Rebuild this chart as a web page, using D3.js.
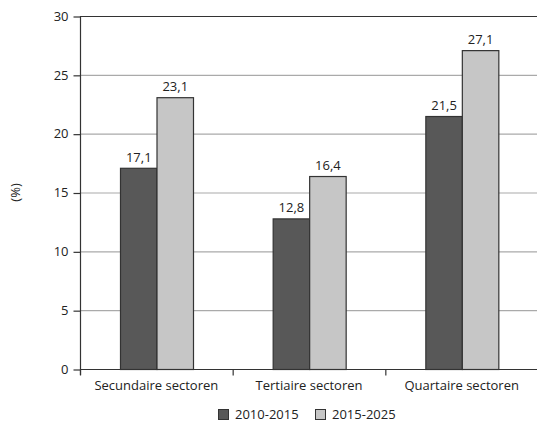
<!DOCTYPE html>
<html><head><meta charset="utf-8">
<script src="https://cdn.jsdelivr.net/npm/d3@7"></script>
<style>body{margin:0;background:#fff}svg{display:block}text{font-family:"Open Sans",sans-serif;fill:#222}</style>
</head><body><svg id="c" width="537" height="422"></svg>
<script>
const categories = ["Secundaire sectoren","Tertiaire sectoren","Quartaire sectoren"];
const seriesNames = ["2010-2015","2015-2025"];
const values2010 = [17.1,12.8,21.5];
const values2015 = [23.1,16.4,27.1];
const yTicks = [0,5,10,15,20,25,30];
const colors = ["#585858","#c6c6c6"];

const svg = d3.select("#c");
const m = {l:80, r:0, t:16, b:53};
const W = 537, H = 422;
const x = d3.scaleBand().domain(categories).range([m.l, W+1]);
const y = d3.scaleLinear().domain([0,30]).range([H-m.b, m.t]);
const fmt = v => v.toFixed(1).replace(".", ",");

// gridlines
svg.append("g").selectAll("line").data(yTicks.filter(t=>t>0 && t<30)).join("line")
  .attr("x1", m.l).attr("x2", W).attr("y1", d=>y(d)+0.5).attr("y2", d=>y(d)+0.5)
  .attr("stroke","#aaa").attr("stroke-width",1.2);
svg.append("line").attr("x1",m.l).attr("x2",W).attr("y1",y(30)+0.5).attr("y2",y(30)+0.5)
  .attr("stroke","#333").attr("stroke-width",1.2);

// bars
const inner = d3.scaleBand().domain(seriesNames).range([0, 73]);
const off = 40;
const data = categories.map((c,i)=>({c, v:[values2010[i], values2015[i]]}));
const g = svg.append("g").selectAll("g").data(data).join("g")
  .attr("transform", d=>`translate(${x(d.c)+off},0)`);
g.selectAll("rect").data(d=>d.v.map((v,j)=>({v, s:seriesNames[j], j}))).join("rect")
  .attr("x", d=>inner(d.s)+0.5).attr("width", inner.bandwidth())
  .attr("y", d=>y(d.v)+0.5).attr("height", d=>y(0)-y(d.v))
  .attr("fill", d=>colors[d.j]).attr("stroke","#333").attr("stroke-width",1.2);
g.selectAll("text").data(d=>d.v.map((v,j)=>({v, s:seriesNames[j], j}))).join("text")
  .attr("x", d=>inner(d.s)+inner.bandwidth()/2+0.5).attr("y", d=>y(d.v)-6)
  .attr("text-anchor","middle").attr("font-size",13).text(d=>fmt(d.v));

// y axis
const ya = svg.append("g").attr("transform",`translate(${m.l+0.5},0)`)
  .call(d3.axisLeft(y).tickValues(yTicks).tickSize(7).tickPadding(5));
ya.select(".domain").attr("d", `M0,${y(30)}V${y(0)+6}`).attr("stroke","#333").attr("stroke-width",1.2);
ya.selectAll(".tick line").attr("stroke","#333").attr("stroke-width",1.2).attr("transform","translate(0,0.5)");
ya.selectAll(".tick text").attr("font-size",13).attr("font-family","'Open Sans',sans-serif").attr("fill","#222");

// x axis
const xa = svg.append("g").attr("transform",`translate(0,${y(0)+0.5})`)
  .call(d3.axisBottom(x).tickSize(0).tickPadding(11));
xa.select(".domain").attr("d",`M${m.l},0H${W}`).attr("stroke","#333").attr("stroke-width",1.2);
xa.selectAll(".tick text").attr("font-size",13).attr("font-family","'Open Sans',sans-serif").attr("fill","#222");
xa.selectAll(".sep").data(categories).join("line").attr("class","sep")
  .attr("x1", d=>x(d)+0.5).attr("x2", d=>x(d)+0.5).attr("y1",0).attr("y2",6)
  .attr("stroke","#333").attr("stroke-width",1.2);

// y label
svg.append("text").attr("transform",`translate(20,${(y(0)+y(30))/2}) rotate(-90)`)
  .attr("text-anchor","middle").attr("font-size",13).text("(%)");

// legend
const lx = [218, 315];
const lg = svg.append("g").selectAll("g").data(seriesNames).join("g")
  .attr("transform",(d,i)=>`translate(${lx[i]},409)`);
lg.append("rect").attr("x",0.5).attr("y",0.5).attr("width",10).attr("height",10)
  .attr("fill",(d,i)=>colors[i]).attr("stroke","#333").attr("stroke-width",1);
lg.append("text").attr("x",17).attr("y",10).attr("font-size",13).text(d=>d);
</script></body></html>
